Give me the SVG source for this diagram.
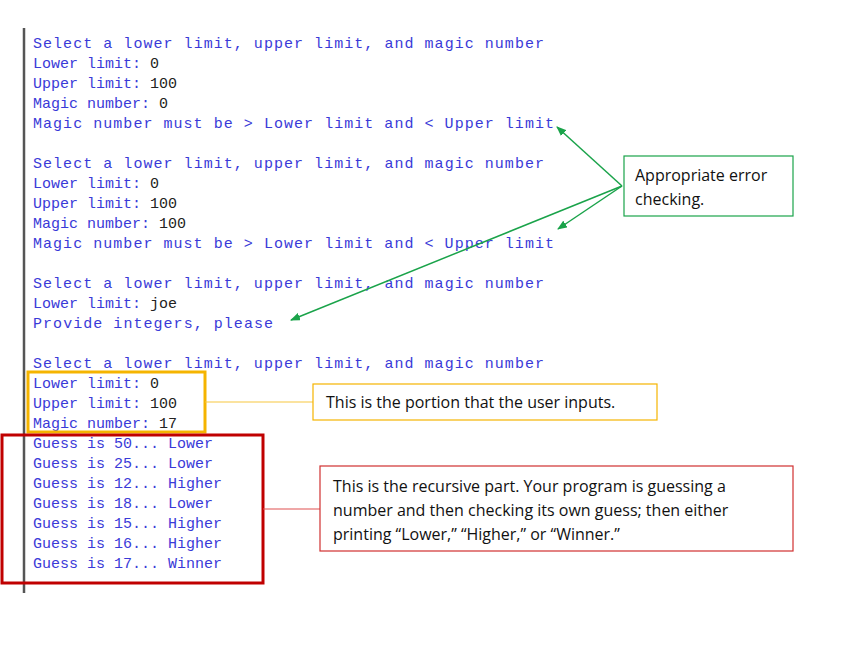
<svg xmlns="http://www.w3.org/2000/svg" width="842" height="671" viewBox="0 0 842 671">
<style>
.c{font-family:"Liberation Mono",monospace;font-size:15px;fill:#3a3ad8}
.k{fill:#222}
.n{font-family:"Open Sans","Liberation Sans",sans-serif;font-size:16px;fill:#111}
</style>
<defs><marker id="ga" markerWidth="10" markerHeight="8" refX="9" refY="4" orient="auto" markerUnits="userSpaceOnUse"><path d="M0,0L10,4L0,8z" fill="#1aa34a"/></marker></defs>
<rect width="842" height="671" fill="#fff"/>
<g id="console">
<line x1="24" y1="28" x2="24" y2="593" stroke="#555" stroke-width="2.5"/>
<g class="c">
<text x="33" y="48" textLength="511">Select a lower limit, upper limit, and magic number</text>
<text x="33" y="68">Lower limit: <tspan class="k">0</tspan></text>
<text x="33" y="88">Upper limit: <tspan class="k">100</tspan></text>
<text x="33" y="108">Magic number: <tspan class="k">0</tspan></text>
<text x="33" y="128" textLength="521">Magic number must be &gt; Lower limit and &lt; Upper limit</text>
<text x="33" y="168" textLength="511">Select a lower limit, upper limit, and magic number</text>
<text x="33" y="188">Lower limit: <tspan class="k">0</tspan></text>
<text x="33" y="208">Upper limit: <tspan class="k">100</tspan></text>
<text x="33" y="228">Magic number: <tspan class="k">100</tspan></text>
<text x="33" y="248" textLength="521">Magic number must be &gt; Lower limit and &lt; Upper limit</text>
<text x="33" y="288" textLength="511">Select a lower limit, upper limit, and magic number</text>
<text x="33" y="308">Lower limit: <tspan class="k">joe</tspan></text>
<text x="33" y="328" textLength="240">Provide integers, please</text>
<text x="33" y="368" textLength="511">Select a lower limit, upper limit, and magic number</text>
<text x="33" y="388">Lower limit: <tspan class="k">0</tspan></text>
<text x="33" y="408">Upper limit: <tspan class="k">100</tspan></text>
<text x="33" y="428">Magic number: <tspan class="k">17</tspan></text>
<text x="33" y="448">Guess is 50... Lower</text>
<text x="33" y="468">Guess is 25... Lower</text>
<text x="33" y="488">Guess is 12... Higher</text>
<text x="33" y="508">Guess is 18... Lower</text>
<text x="33" y="528">Guess is 15... Higher</text>
<text x="33" y="548">Guess is 16... Higher</text>
<text x="33" y="568">Guess is 17... Winner</text>
</g>
<rect x="28" y="372" width="177" height="60" fill="none" stroke="#f5b400" stroke-width="3"/>
<rect x="2" y="435" width="261" height="148" fill="none" stroke="#c00000" stroke-width="3"/>
</g>
<g id="connectors">
<line x1="205" y1="402" x2="313" y2="402" stroke="#f8c840" stroke-width="1.2"/>
<line x1="263" y1="509" x2="320" y2="509" stroke="#e05050" stroke-width="1.2"/>
<g stroke="#1aa34a" stroke-width="1.5" marker-end="url(#ga)">
<line x1="622" y1="186" x2="557" y2="127"/>
<line x1="622" y1="186" x2="558" y2="229"/>
<line x1="622" y1="186" x2="291" y2="320"/>
</g>
</g>
<g id="note-error">
<rect x="624" y="156" width="169" height="60" fill="#fff" stroke="#1aa34a" stroke-width="1.2"/>
<text class="n" x="635" y="181">Appropriate error</text>
<text class="n" x="635" y="205">checking.</text>
</g>
<g id="note-input">
<rect x="313" y="384" width="344" height="36" fill="#fff" stroke="#f5b400" stroke-width="1.2"/>
<text class="n" x="326" y="408">This is the portion that the user inputs.</text>
</g>
<g id="note-recursive">
<rect x="320" y="466" width="473" height="85" fill="#fff" stroke="#d03030" stroke-width="1.2"/>
<text class="n" x="333" y="492">This is the recursive part.  Your program is guessing a</text>
<text class="n" x="333" y="516">number and then checking its own guess; then either</text>
<text class="n" x="333" y="540">printing “Lower,” “Higher,” or “Winner.”</text>
</g>
</svg>
